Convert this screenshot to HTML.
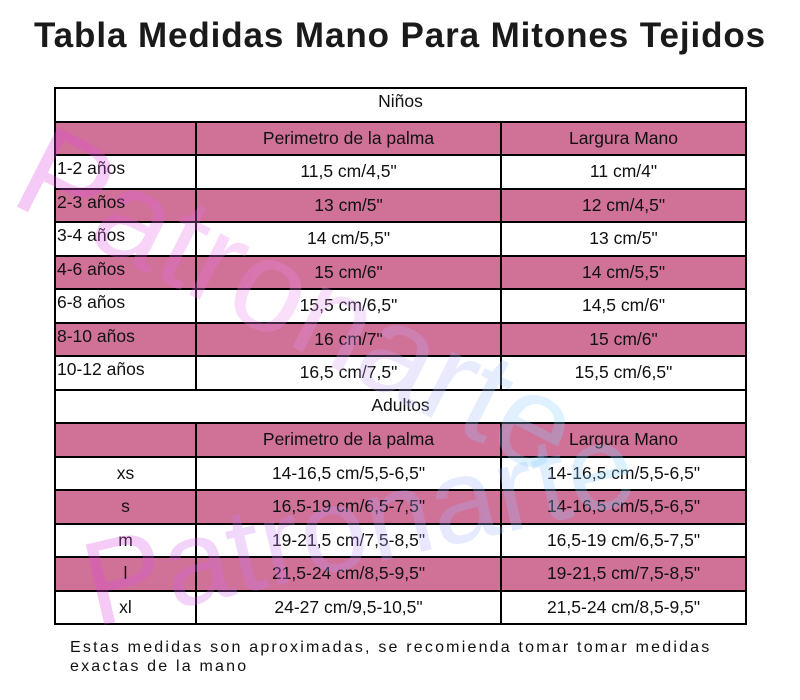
<!DOCTYPE html>
<html><head><meta charset="utf-8">
<style>
body{margin:0;width:800px;height:700px;background:#fff;position:relative;overflow:hidden;font-family:"Liberation Sans",sans-serif;color:#111}
h1{position:absolute;top:16px;left:0;width:800px;text-align:center;margin:0;font-size:35px;font-weight:bold;letter-spacing:0.9px;color:#1a1a1a}
table{position:absolute;left:54px;top:87px;width:691px;border-collapse:collapse;table-layout:fixed}
tr{height:33.5px}
td{border:2px solid #000;padding:0;font-size:17.5px;text-align:center;vertical-align:middle}
td.l{text-align:left;vertical-align:top;padding-left:1px;padding-top:2px}
tr.p td{background:#d07198}
.note{position:absolute;left:70px;top:638px;font-size:16px;line-height:19px;letter-spacing:2.2px;color:#111}
.wm{position:absolute;font-weight:normal;opacity:0.28;transform-origin:left top;white-space:nowrap;pointer-events:none;-webkit-background-clip:text;background-clip:text;color:transparent}
</style></head><body>
<h1>Tabla Medidas Mano Para Mitones Tejidos</h1>
<table>
<colgroup><col style="width:141px"><col style="width:305px"><col style="width:245px"></colgroup>
<tr><td colspan="3" style="vertical-align:top;padding-top:2px">Niños</td></tr>
<tr class="p"><td></td><td>Perimetro de la palma</td><td>Largura Mano</td></tr>
<tr><td class="l">1-2 años</td><td>11,5 cm/4,5"</td><td>11 cm/4"</td></tr>
<tr class="p"><td class="l">2-3 años</td><td>13 cm/5"</td><td>12 cm/4,5"</td></tr>
<tr><td class="l">3-4 años</td><td>14 cm/5,5"</td><td>13 cm/5"</td></tr>
<tr class="p"><td class="l">4-6 años</td><td>15 cm/6"</td><td>14 cm/5,5"</td></tr>
<tr><td class="l">6-8 años</td><td>15,5 cm/6,5"</td><td>14,5 cm/6"</td></tr>
<tr class="p"><td class="l">8-10 años</td><td>16 cm/7"</td><td>15 cm/6"</td></tr>
<tr><td class="l">10-12 años</td><td>16,5 cm/7,5"</td><td>15,5 cm/6,5"</td></tr>
<tr><td colspan="3" style="vertical-align:top;padding-top:4px">Adultos</td></tr>
<tr class="p"><td></td><td>Perimetro de la palma</td><td>Largura Mano</td></tr>
<tr><td>xs</td><td>14-16,5 cm/5,5-6,5"</td><td>14-16,5 cm/5,5-6,5"</td></tr>
<tr class="p"><td>s</td><td>16,5-19 cm/6,5-7,5"</td><td>14-16,5 cm/5,5-6,5"</td></tr>
<tr><td>m</td><td>19-21,5 cm/7,5-8,5"</td><td>16,5-19 cm/6,5-7,5"</td></tr>
<tr class="p"><td>l</td><td>21,5-24 cm/8,5-9,5"</td><td>19-21,5 cm/7,5-8,5"</td></tr>
<tr><td>xl</td><td>24-27 cm/9,5-10,5"</td><td>21,5-24 cm/8,5-9,5"</td></tr>
</table>
<div class="wm" style="left:62px;top:95px;font-size:130px;transform:rotate(27deg);background-image:linear-gradient(90deg,#e040e0,#f090f0,#80d8ff)">Patronarte</div>
<div class="wm" style="left:70px;top:520px;font-size:120px;transform:rotate(-13deg);background-image:linear-gradient(90deg,#e040e0,#c0a0ff,#80d8ff)">Patronarte</div>
<div class="note">Estas medidas son aproximadas, se recomienda tomar tomar medidas<br>exactas de la mano</div>
</body></html>
